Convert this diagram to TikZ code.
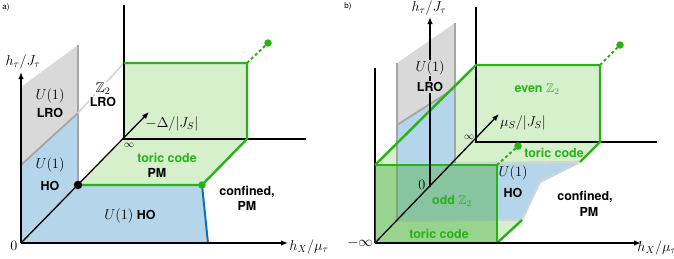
\documentclass[tikz,border=0pt]{standalone}
\usepackage{amssymb}
\usepackage{fontspec}
\setsansfont{TeX Gyre Heros}
\usetikzlibrary{arrows.meta}

\definecolor{lgreen}{RGB}{214,240,204}
\definecolor{dgreen}{RGB}{40,178,24}
\definecolor{fgreen}{RGB}{70,175,60}
\definecolor{lblue}{RGB}{181,214,234}
\definecolor{dblue}{RGB}{10,112,190}
\definecolor{lgray}{RGB}{217,217,217}
\definecolor{mgray}{RGB}{165,165,165}
\definecolor{pgray}{RGB}{212,212,212}

\begin{document}
\begin{tikzpicture}[
  x=1bp, y=-1bp,
  ax/.style={-{Latex[length=7bp,width=5.5bp]}, line width=1.3bp},
  ln/.style={line width=1.3bp},
  gedge/.style={dgreen, line width=2.4bp, line join=round},
  gdash/.style={dgreen, line width=2bp, dash pattern=on 3bp off 2.5bp},
  wall/.style={mgray, line width=1.8bp},
  lab/.style={font=\sffamily\bfseries\fontsize{12.5}{13}\selectfont, inner sep=1pt},
  glab/.style={lab, text=dgreen},
  mth/.style={font=\fontsize{14}{15}\selectfont, inner sep=1pt},
  dot/.style={circle, fill, inner sep=0pt, minimum size=7.5bp},
]
\useasboundingbox (0,0) rectangle (674,258);

%% ---------------- panel a ----------------
\coordinate (aO) at (21,243);
\coordinate (aX) at (288,243);
\coordinate (aZ) at (21,72);
\coordinate (aY) at (149,112);
\coordinate (aD) at (78,185);
\coordinate (aG) at (202,185);
\coordinate (aB) at (124,139);
\coordinate (aR) at (247,139);
\coordinate (aT) at (124,63);
\coordinate (aS) at (247,63);
\coordinate (aH) at (208,243);

\fill[lblue] (aO) -- (aD) -- (aG) -- (aH) -- cycle;
\fill[lgreen] (aD) -- (aG) -- (aR) -- (aB) -- cycle;
\fill[lgreen] (aT) -- (aS) -- (aR) -- (aB) -- cycle;
%% left wall
\fill[lblue] (aO) -- (21,165) -- (78,113) -- (aD) -- cycle;
\fill[lgray] (21,165) -- (21,87) -- (78,45) -- (78,113) -- cycle;
\draw[wall] (21,165) -- (78,113);
\draw[wall] (78,45) -- (aD);
\draw[pgray, line width=1.6bp] (78,113) -- (aT);

\draw[ln] (124,5) -- (aB) -- (306,139);
\draw[gedge] (aT) -- (aS) -- (aR) -- (aG) -- (aD);
\draw[gdash] (aS) -- (266,45);
\node[dot, dgreen] (ga) at (268,43) {};
\draw[dblue, line width=2bp] (aG) -- (aH);

\draw[ax] (aO) -- (aX);
\draw[ax] (aO) -- (aZ);
\draw[ax] (aO) -- (aY);
\node[dot, black, minimum size=8.5bp] (da) at (aD) {};
\node[dot, dgreen] (gb) at (aG) {};

\node[font=\sffamily\fontsize{8}{8}\selectfont, inner sep=0pt] (ta) at (6,7) {a)};
\node[mth] (za) at (23,62) {$h_\tau/J_\tau$};
\node[mth] (xa) at (309,247) {$h_X/\mu_\tau$};
\node[mth] (ya) at (172,124) {$-\Delta/|J_S|$};
\node[mth] (oa) at (14,246) {$0$};
\node[mth, font=\fontsize{10}{10}\selectfont] (ia) at (129,145) {$\infty$};
\node[mth] (u1) at (50,96) {$U(1)$};
\node[lab] (l1) at (50,113) {LRO};
\node[mth] (u2) at (50,165) {$U(1)$};
\node[lab] (h2) at (50,186) {HO};
\node[mth, fill=white] (z2) at (103,89) {$\mathbb{Z}_2$};
\node[lab, fill=white] (l2) at (103,102) {LRO};
\node[glab] (tc) at (167,158) {toric code};
\node[lab] (p1) at (157,173) {PM};
\node[lab] (uh) at (130,216) {{\fontsize{14}{15}\selectfont$U(1)$} HO};
\node[lab] (cf) at (247,192) {confined,};
\node[lab] (p2) at (247,206) {PM};

%% ---------------- panel b ----------------
\coordinate (bO) at (375,243);
\coordinate (bX) at (641,243);
\coordinate (bL) at (375,68);
\coordinate (bM) at (430,187);
\coordinate (bZ) at (430,17);
\coordinate (bY) at (499,114);
\coordinate (bB) at (476,142);
\coordinate (bT) at (476,65);
\coordinate (bS) at (600,65);
\coordinate (bR) at (600,142);
\coordinate (bF) at (375,165);
\coordinate (bE) at (497,165);
\coordinate (bQ) at (497,243);
\coordinate (bK) at (580,162);
\coordinate (bJ) at (522,220);

%% left wall and back plane
\fill[lgreen] (bO) -- (bB) -- (bT) -- (bF) -- cycle;
\fill[lgreen] (bT) -- (bS) -- (bR) -- (bB) -- cycle;
%% floor
\fill[lgreen] (455,163) -- (bK) -- (bR) -- (bB) -- cycle;
\fill[lblue] (397,221) -- (bJ) -- (540,182) -- (bK) -- (455,163) -- cycle;
\fill[lgreen] (bO) -- (bQ) -- (bJ) -- (397,221) -- cycle;
\draw[pgray, line width=2bp, line join=round] (397,221) -- (bJ) -- (540,182) -- (bK) -- (455,163);
%% plane at h_X = 0
\fill[lgray] (397,63) -- (455,23) -- (455,88) -- (397,125) -- cycle;
\fill[lblue] (397,125) -- (455,88) -- (455,163) -- (397,221) -- cycle;
\draw[wall] (397,125) -- (455,88);
\draw[wall] (397,63) -- (397,221);
\draw[wall] (455,23) -- (455,163);

\draw[ln] (476,7) -- (bB) -- (657,142);
\draw[ln] (bO) -- (bL);
\draw[gedge] (bF) -- (bT) -- (bS) -- (bR) -- (bK);
\draw[gedge] (bQ) -- (bJ);
\draw[gdash] (bS) -- (618,47);
\node[dot, dgreen] (gc) at (620,45) {};
\draw[gdash] (bE) -- (516,148);
\node[dot, dgreen] (gd) at (518,146) {};

%% front plane
\fill[fgreen, opacity=0.42] (bF) -- (bE) -- (bQ) -- (bO) -- cycle;
\draw[gedge] (bF) -- (bE) -- (bQ);

\draw[ax] (bO) -- (bX);
\draw[ax] (bM) -- (bZ);
\draw[ax] (bO) -- (bY);

\node[font=\sffamily\fontsize{8}{8}\selectfont, inner sep=0pt] (tb) at (348,6) {b)};
\node[mth] (zb) at (429,8) {$h_\tau/J_\tau$};
\node[mth] (xb) at (657,248) {$h_X/\mu_\tau$};
\node[mth] (yb) at (523,123) {$\mu_S/|J_S|$};
\node[mth, anchor=east] (ob) at (374,243) {$-\infty$};
\node[mth] (nb) at (422,185) {$0$};
\node[mth, font=\fontsize{10}{10}\selectfont] (ib) at (469,137) {$\infty$};
\node[mth, fill=lgray] (u3) at (430,68) {$U(1)$};
\node[lab, fill=lgray] (l3) at (430,87) {LRO};
\node[glab] (ev) at (537,89) {even $\mathbb{Z}_2$};
\node[glab] (tb1) at (554,153) {toric code};
\node[mth] (u4) at (513,173) {$U(1)$};
\node[lab] (h4) at (513,193) {HO};
\node[glab] (od) at (452,201) {odd $\mathbb{Z}_2$};
\node[glab] (tb2) at (439,234) {toric code};
\node[lab] (cf2) at (585,197) {confined,};
\node[lab] (p3) at (589,212) {PM};
\end{tikzpicture}
\end{document}
